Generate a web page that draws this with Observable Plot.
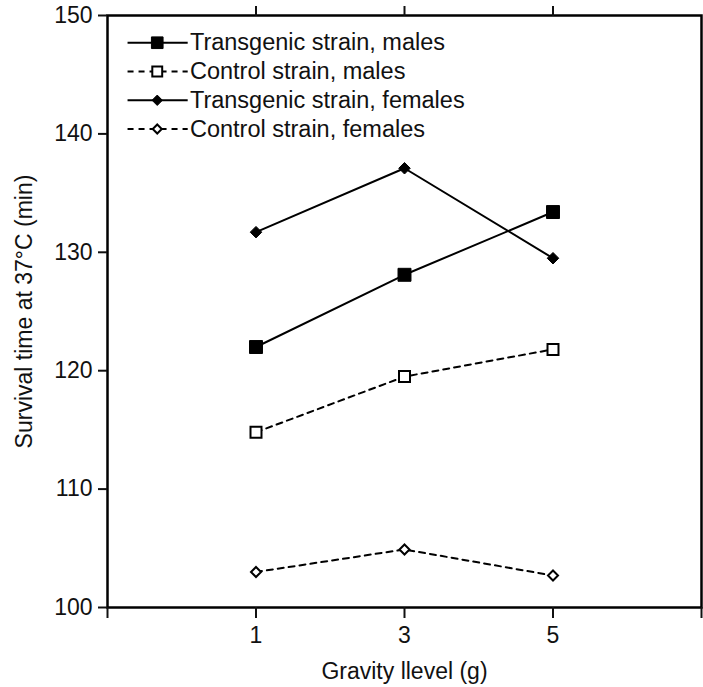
<!DOCTYPE html>
<html>
<head>
<meta charset="utf-8">
<script src="https://cdn.jsdelivr.net/npm/d3@7"></script>
<script src="https://cdn.jsdelivr.net/npm/@observablehq/plot@0.6"></script>
<style>
  html, body { margin: 0; padding: 0; background: #fff; }
  svg { font-family: "Liberation Sans", Arial, sans-serif; }
</style>
</head>
<body>
<div id="chart"></div>
<script>
// ---- data ----
const gravity = [1, 3, 5];
const seriesNames = [
  "Transgenic strain, males",
  "Control strain, males",
  "Transgenic strain, females",
  "Control strain, females"
];
const tgMales   = [122.0, 128.1, 133.4];
const ctMales   = [114.8, 119.5, 121.8];
const tgFemales = [131.7, 137.1, 129.5];
const ctFemales = [103.0, 104.9, 102.7];
const yTicks = [100, 110, 120, 130, 140, 150];
const xTicks = [-1, 1, 3, 5, 7];
const xTickLabels = ["", "1", "3", "5", ""];

// ---- styles per series ----
const diamond = {
  draw(context, size) {
    const r = Math.sqrt(size / 2);
    context.moveTo(0, -r); context.lineTo(r, 0); context.lineTo(0, r); context.lineTo(-r, 0); context.closePath();
  }
};
const styles = [
  {dash: null, symbol: "square", fill: "black", r: 7.3},
  {dash: "6,5", symbol: "square", fill: "white", r: 6.2},
  {dash: null, symbol: diamond, fill: "black", r: 4.6},
  {dash: "6,5", symbol: diamond, fill: "white", r: 4.0}
];
const values = [tgMales, ctMales, tgFemales, ctFemales];

const rows = [];
values.forEach((vals, s) => vals.forEach((v, i) => rows.push({series: s, name: seriesNames[s], g: gravity[i], v})));

// legend rows in data space
const legend = seriesNames.map((name, i) => ({i, name, y: 147.7 - i * 2.43}));
const legX0 = -0.73, legX1 = 0.08, legXm = -0.33, legXt = 0.11;

const marks = [];
styles.forEach((st, s) => {
  const d = rows.filter(r => r.series === s);
  marks.push(Plot.line(d, {x: "g", y: "v", stroke: "black", strokeWidth: 2, strokeDasharray: st.dash}));
  const lg = legend.filter(l => l.i === s);
  marks.push(Plot.link(lg, {x1: () => legX0, x2: () => legX1, y1: "y", y2: "y", stroke: "black", strokeWidth: 2, strokeDasharray: st.dash}));
});
styles.forEach((st, s) => {
  const d = rows.filter(r => r.series === s);
  marks.push(Plot.dot(d, {x: "g", y: "v", symbol: () => st.symbol, r: st.r, fill: st.fill, stroke: "black", strokeWidth: st.fill === "white" ? 2 : 1}));
  const lg = legend.filter(l => l.i === s);
  marks.push(Plot.dot(lg, {x: () => legXm, y: "y", symbol: () => st.symbol, r: st.r * 0.9, fill: st.fill, stroke: "black", strokeWidth: st.fill === "white" ? 2 : 1}));
});
marks.push(Plot.text(legend, {x: () => legXt, y: "y", text: "name", textAnchor: "start", fontSize: 23.5, fill: "#111"}));

const chart = Plot.plot({
  width: 703,
  height: 687,
  marginLeft: 107,
  marginRight: 2,
  marginTop: 15,
  marginBottom: 80,
  style: {fontFamily: "Liberation Sans, Arial, sans-serif", fontSize: "23px", color: "#111", background: "white"},
  x: {domain: [-1, 7]},
  y: {domain: [100, 150]},
  symbol: {type: "identity"},
  marks: [
    Plot.frame({stroke: "black", strokeWidth: 2.5}),
    Plot.axisY(yTicks, {anchor: "left", tickSize: 9, tickPadding: 6, strokeWidth: 2, fontSize: 23,
      label: "Survival time at 37°C (min)", labelAnchor: "center", labelArrow: "none", labelOffset: 92}),
    Plot.axisX(xTicks, {anchor: "bottom", tickSize: 11, tickPadding: 8, strokeWidth: 2, fontSize: 23,
      tickFormat: (d) => xTickLabels[xTicks.indexOf(d)],
      label: "Gravity llevel (g)", labelAnchor: "center", labelArrow: "none", labelOffset: 71}),
    Plot.axisX([1, 3, 5], {anchor: "top", tickSize: 10, strokeWidth: 2, tickFormat: () => "", label: null}),
    ...marks
  ]
});
document.getElementById("chart").appendChild(chart);
</script>
</body>
</html>
